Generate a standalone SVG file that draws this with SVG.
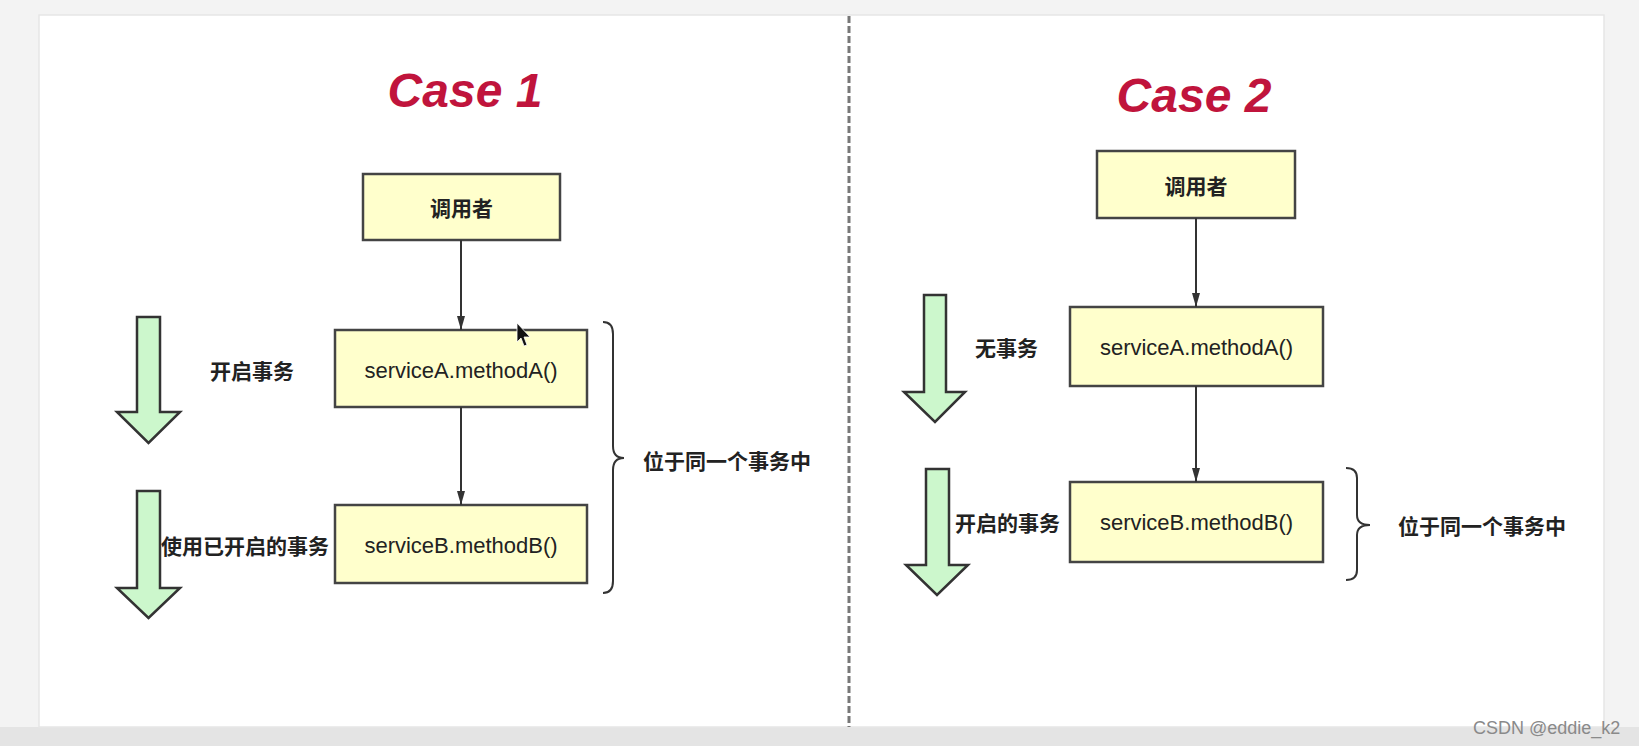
<svg xmlns="http://www.w3.org/2000/svg" width="1639" height="746" viewBox="0 0 1639 746">
  <style>
    .box { fill: #ffffcc; stroke: #444; stroke-width: 2.5; }
    .green { fill: #ccf7cc; stroke: #333; stroke-width: 2.5; stroke-linejoin: miter; }
    .conn { stroke: #333; stroke-width: 2; fill: none; }
    .brace { fill: none; stroke: #333; stroke-width: 2; }
    .title { font-family: "Liberation Sans", Arial, sans-serif; font-weight: bold; font-style: italic; font-size: 48px; fill: #c0143c; }
    .zh { font-family: "Noto Sans CJK SC", "Noto Sans", sans-serif; font-size: 21px; fill: #222; font-weight: bold; }
    .code { font-family: "Liberation Sans", Arial, sans-serif; font-size: 22px; fill: #222; }
  </style>
  <defs>
    <marker id="ah" markerUnits="userSpaceOnUse" markerWidth="14" markerHeight="8" refX="14" refY="4" orient="auto">
      <path d="M0,0 L14,4 L0,8 Z" fill="#333"/>
    </marker>
  </defs>

  <!-- background -->
  <rect x="0" y="0" width="1639" height="746" fill="#f3f3f3"/>
  <rect x="0" y="727" width="1639" height="19" fill="#e4e4e4"/>
  <rect x="39" y="15" width="1565" height="712" fill="#ffffff" stroke="#e6e6e6" stroke-width="1.5"/>

  <!-- divider -->
  <line x1="849" y1="16" x2="849" y2="727" stroke="#777" stroke-width="3" stroke-dasharray="7 3"/>

  <!-- titles -->
  <text class="title" x="465" y="107" text-anchor="middle">Case 1</text>
  <text class="title" x="1194" y="112" text-anchor="middle">Case 2</text>

  <!-- Case 1 nodes -->
  <g id="c1-caller">
    <rect class="box" x="363" y="174" width="197" height="66"/>
    <text class="zh" x="461.5" y="207" text-anchor="middle" dominant-baseline="central">调用者</text>
  </g>
  <g id="c1-serviceA">
    <rect class="box" x="335" y="330" width="252" height="77"/>
    <text class="code" x="461" y="370" text-anchor="middle" dominant-baseline="central">serviceA.methodA()</text>
  </g>
  <g id="c1-serviceB">
    <rect class="box" x="335" y="505" width="252" height="78"/>
    <text class="code" x="461" y="545" text-anchor="middle" dominant-baseline="central">serviceB.methodB()</text>
  </g>
  <g id="c1-flow1">
    <path class="green" d="M137,317 H160 V412 H180 L148.5,443 L117,412 H137 Z"/>
    <text class="zh" x="210" y="370" dominant-baseline="central">开启事务</text>
  </g>
  <g id="c1-flow2">
    <path class="green" d="M137,491 H160 V588 H180 L148.5,618 L117,588 H137 Z"/>
    <text class="zh" x="161" y="545" dominant-baseline="central">使用已开启的事务</text>
  </g>
  <g id="c1-brace">
    <path class="brace" d="M603,322 Q613,322 613,334 V446 Q613,458 624,458 Q613,458 613,470 V581 Q613,593 603,593"/>
    <text class="zh" x="643" y="460" dominant-baseline="central">位于同一个事务中</text>
  </g>

  <!-- Case 2 nodes -->
  <g id="c2-caller">
    <rect class="box" x="1097" y="151" width="198" height="67"/>
    <text class="zh" x="1196" y="185" text-anchor="middle" dominant-baseline="central">调用者</text>
  </g>
  <g id="c2-serviceA">
    <rect class="box" x="1070" y="307" width="253" height="79"/>
    <text class="code" x="1196.5" y="347" text-anchor="middle" dominant-baseline="central">serviceA.methodA()</text>
  </g>
  <g id="c2-serviceB">
    <rect class="box" x="1070" y="482" width="253" height="80"/>
    <text class="code" x="1196.5" y="522" text-anchor="middle" dominant-baseline="central">serviceB.methodB()</text>
  </g>
  <g id="c2-flow1">
    <path class="green" d="M924,295 H946 V392 H965 L935,422 L904,392 H924 Z"/>
    <text class="zh" x="975" y="347" dominant-baseline="central">无事务</text>
  </g>
  <g id="c2-flow2">
    <path class="green" d="M926,469 H949 V565 H968 L937,595 L906,565 H926 Z"/>
    <text class="zh" x="955" y="522" dominant-baseline="central">开启的事务</text>
  </g>
  <g id="c2-brace">
    <path class="brace" d="M1346,468 Q1357,468 1357,478 V515 Q1357,525 1370,525 Q1357,525 1357,535 V570 Q1357,580 1346,580"/>
    <text class="zh" x="1398" y="525" dominant-baseline="central">位于同一个事务中</text>
  </g>

  <!-- connectors -->
  <g id="connectors">
    <line class="conn" x1="461" y1="240" x2="461" y2="330" marker-end="url(#ah)"/>
    <line class="conn" x1="461" y1="407" x2="461" y2="505" marker-end="url(#ah)"/>
    <line class="conn" x1="1196" y1="218" x2="1196" y2="307" marker-end="url(#ah)"/>
    <line class="conn" x1="1196" y1="386" x2="1196" y2="482" marker-end="url(#ah)"/>
  </g>

  <!-- mouse cursor -->
  <path d="M517,323 L517,342 L521,338 L524,346 L527,345 L524,337 L530,337 Z" fill="#111" stroke="#fff" stroke-width="0.8"/>

  <!-- watermark -->
  <text x="1473" y="734" font-family="Liberation Sans, Arial, sans-serif" font-size="18" fill="#8a8a8a">CSDN @eddie_k2</text>
</svg>
